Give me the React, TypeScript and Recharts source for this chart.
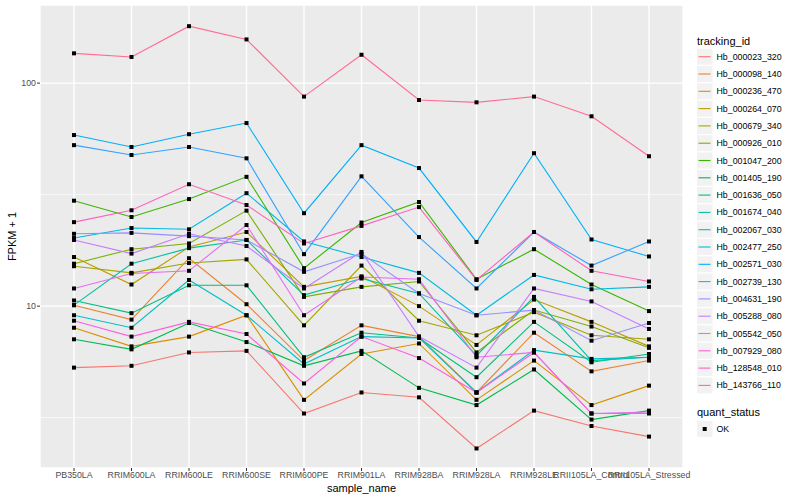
import { LineChart, Line, XAxis, YAxis, CartesianGrid, ReferenceLine } from 'recharts'

const FONT = '"Liberation Sans", Arial, Helvetica, sans-serif'

const samples = [
  'PB350LA', 'RRIM600LA', 'RRIM600LE', 'RRIM600SE', 'RRIM600PE', 'RRIM901LA',
  'RRIM928BA', 'RRIM928LA', 'RRIM928LE', 'RRII105LA_Control', 'RRII105LA_Stressed',
]

const trackingIds = [
  'Hb_000023_320', 'Hb_000098_140', 'Hb_000236_470', 'Hb_000264_070', 'Hb_000679_340',
  'Hb_000926_010', 'Hb_001047_200', 'Hb_001405_190', 'Hb_001636_050', 'Hb_001674_040',
  'Hb_002067_030', 'Hb_002477_250', 'Hb_002571_030', 'Hb_002739_130', 'Hb_004631_190',
  'Hb_005288_080', 'Hb_005542_050', 'Hb_007929_080', 'Hb_128548_010', 'Hb_143766_110',
]

// ggplot hue palette, 20 levels
const colours = [
  '#F8766D', '#EA8331', '#D89000', '#C09B00', '#A3A500', '#7CAE00', '#39B600', '#00BB4E',
  '#00BF7D', '#00C1A3', '#00BFC4', '#00BAE0', '#00B0F6', '#35A2FF', '#9590FF', '#C77CFF',
  '#E76BF3', '#FA62DB', '#FF62BC', '#FF6C91',
]

// FPKM + 1, one value per sample
const hb000023 = [5.3, 5.4, 6.2, 6.3, 3.3, 4.1, 3.9, 2.3, 3.4, 2.9, 2.6]
const hb000098 = [10.1, 8.7, 16.4, 10.2, 5.7, 8.2, 7.3, 4.1, 7.6, 5.1, 5.7]
const hb000236 = [8.0, 6.6, 7.3, 9.1, 3.8, 6.1, 6.8, 3.8, 5.7, 3.6, 4.4]
const hb000264 = [16.6, 12.5, 18.4, 21.5, 12.2, 13.6, 10.0, 6.7, 10.7, 8.5, 6.6]
const hb000679 = [15.1, 14.1, 15.6, 16.2, 8.2, 15.2, 8.6, 7.4, 9.4, 7.4, 7.1]
const hb000926 = [15.5, 18.0, 19.1, 26.8, 11.0, 12.2, 12.9, 6.2, 9.6, 8.1, 6.5]
const hb001047 = [29.7, 25.1, 30.2, 38.0, 14.8, 23.7, 29.3, 13.2, 18.0, 12.5, 9.5]
const hb001405 = [7.1, 6.4, 8.4, 6.9, 5.4, 6.3, 4.3, 3.6, 5.2, 3.1, 3.4]
const hb001636 = [10.6, 9.3, 12.4, 12.4, 5.9, 7.6, 7.2, 4.8, 8.5, 5.6, 6.1]
const hb001674 = [10.1, 15.5, 18.2, 19.8, 11.2, 13.3, 11.4, 6.0, 11.0, 5.7, 5.9]
const hb002067 = [9.1, 8.0, 13.1, 9.1, 5.5, 7.3, 7.2, 4.1, 6.35, 5.8, 5.9]
const hb002477 = [20.2, 22.4, 22.1, 32.1, 19.5, 16.6, 14.1, 9.1, 13.8, 11.9, 12.2]
const hb002571 = [58.5, 51.7, 59.0, 66.2, 26.1, 52.7, 41.6, 19.4, 48.5, 19.9, 16.7]
const hb002739 = [52.7, 47.6, 51.7, 46.0, 17.1, 38.2, 20.4, 12.0, 21.5, 15.2, 19.5]
const hb004631 = [21.1, 21.3, 20.6, 19.8, 14.25, 17.2, 11.4, 9.1, 9.6, 7.0, 8.4]
const hb005288 = [19.8, 17.2, 21.1, 18.6, 12.0, 17.5, 7.3, 5.3, 12.0, 10.5, 7.9]
const hb005542 = [12.0, 14.0, 14.4, 23.1, 9.1, 13.5, 13.2, 5.9, 6.2, 3.3, 3.35]
const hb007929 = [8.6, 7.3, 8.5, 7.5, 4.5, 7.3, 5.85, 4.1, 6.2, 3.3, 3.3]
const hb128548 = [23.8, 26.9, 35.2, 28.4, 19.1, 22.9, 27.8, 13.1, 21.5, 14.4, 12.9]
const hb143766 = [136, 131, 180, 157, 87, 134, 84, 82, 87, 71, 47]

const seriesValues = [
  hb000023, hb000098, hb000236, hb000264, hb000679, hb000926, hb001047, hb001405,
  hb001636, hb001674, hb002067, hb002477, hb002571, hb002739, hb004631, hb005288,
  hb005542, hb007929, hb128548, hb143766,
]

const yTicks = [10, 100]
const yMinor = [Math.sqrt(10), Math.sqrt(1000)]

const rows = samples.map((s, i) => {
  const row: Record<string, string | number> = { sample_name: s }
  trackingIds.forEach((id, k) => {
    row[id] = seriesValues[k][i]
  })
  return row
})

const SquareDot = (props: any) => {
  const { cx, cy, index, dataKey } = props
  if (cx == null || cy == null) return <g key={`${dataKey}-${index}`} />
  return <rect key={`${dataKey}-${index}`} x={cx - 2} y={cy - 2} width={4} height={4} fill="#000" />
}

const tickStyle = { fontSize: 8.8, fill: '#4D4D4D', fontFamily: FONT }

export default function App() {
  return (
    <div style={{ position: 'absolute', left: 0, top: 0, width: 800, height: 500, background: '#fff' }}>
      <LineChart
        width={800}
        height={500}
        data={rows}
        margin={{ top: 5, right: 117, bottom: 12, left: 10 }}
      >
        <CartesianGrid fill="#EBEBEB" stroke="#FFFFFF" strokeWidth={1.4} />
        {yMinor.map((v) => (
          <ReferenceLine key={v} y={v} stroke="#FFFFFF" strokeWidth={0.7} />
        ))}
        <XAxis
          dataKey="sample_name"
          interval={0}
          padding={{ left: 34, right: 34 }}
          height={20}
          axisLine={false}
          tickLine={{ stroke: '#333333' }}
          tickSize={3}
          tickMargin={1}
          tick={tickStyle}
        />
        <YAxis
          scale="log"
          type="number"
          domain={[1.88, 224]}
          allowDataOverflow
          ticks={yTicks}
          width={30}
          axisLine={false}
          tickLine={{ stroke: '#333333' }}
          tickSize={3}
          tickMargin={1}
          tick={tickStyle}
        />
        {trackingIds.map((id, k) => (
          <Line
            key={id}
            dataKey={id}
            stroke={colours[k]}
            strokeWidth={1.1}
            dot={false}
            activeDot={false}
            isAnimationActive={false}
          />
        ))}
        {trackingIds.map((id) => (
          <Line
            key={`${id}-pts`}
            dataKey={id}
            stroke="none"
            dot={SquareDot}
            activeDot={false}
            isAnimationActive={false}
          />
        ))}
      </LineChart>

      <svg
        width={800}
        height={500}
        style={{ position: 'absolute', left: 0, top: 0, pointerEvents: 'none' }}
        fontFamily={FONT}
      >
        <text x={12} y={236.5} transform="rotate(-90 12 236.5)" textAnchor="middle" dominantBaseline="central" fontSize={11}>
          FPKM + 1
        </text>
        <text x={361.5} y={488} textAnchor="middle" dominantBaseline="central" fontSize={11}>
          sample_name
        </text>

        <text x={697} y={40.5} dominantBaseline="central" fontSize={11}>tracking_id</text>
        {trackingIds.map((id, i) => {
          const cy = 56.7 + i * 17.3
          return (
            <g key={id}>
              <rect x={697} y={cy - 8} width={15.5} height={16} fill="#F2F2F2" />
              <line x1={698.5} x2={710.5} y1={cy} y2={cy} stroke={colours[i]} strokeWidth={1.1} />
              <text x={716.5} y={cy} dominantBaseline="central" fontSize={8.8}>{id}</text>
            </g>
          )
        })}

        <text x={697} y={412} dominantBaseline="central" fontSize={11}>quant_status</text>
        <rect x={697} y={421} width={15.5} height={16} fill="#F2F2F2" />
        <rect x={702.7} y={427} width={4} height={4} fill="#000" />
        <text x={716.5} y={429} dominantBaseline="central" fontSize={8.8}>OK</text>
      </svg>
    </div>
  )
}
